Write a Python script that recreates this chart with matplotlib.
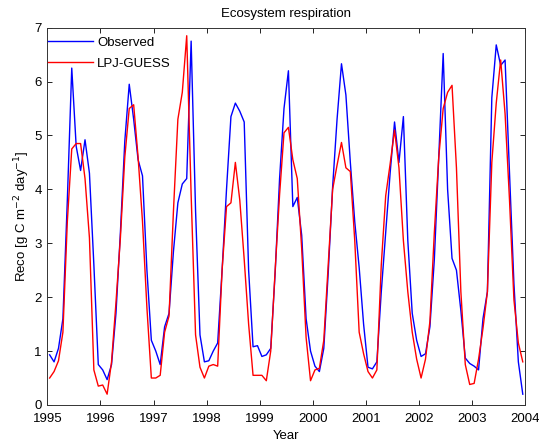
import numpy as np
import matplotlib
matplotlib.use("Agg")
import matplotlib.pyplot as plt

plt.rcParams['font.family'] = ['Liberation Sans', 'DejaVu Sans']

start_year = 1995
n_years = 9

observed = [
    0.93, 0.80, 1.05, 1.60, 3.80, 6.25, 4.80, 4.35, 4.92, 4.30, 2.60, 0.75,   # 1995
    0.65, 0.47, 0.75, 1.70, 3.20, 4.90, 5.95, 5.30, 4.55, 4.25, 2.50, 1.20,   # 1996
    1.00, 0.75, 1.45, 1.70, 2.85, 3.75, 4.10, 4.20, 6.75, 3.60, 1.30, 0.80,   # 1997
    0.82, 1.00, 1.15, 2.50, 4.00, 5.35, 5.60, 5.45, 5.25, 2.50, 1.08, 1.10,   # 1998
    0.90, 0.93, 1.05, 2.45, 4.20, 5.50, 6.20, 3.68, 3.85, 3.15, 1.60, 1.00,   # 1999
    0.72, 0.62, 1.05, 2.45, 4.05, 5.30, 6.33, 5.75, 4.50, 3.40, 2.55, 1.50,   # 2000
    0.70, 0.67, 0.80, 2.10, 3.20, 4.30, 5.25, 4.50, 5.35, 3.05, 1.70, 1.20,   # 2001
    0.90, 0.95, 1.45, 2.70, 4.60, 6.52, 4.00, 2.72, 2.50, 1.75, 0.87, 0.77,   # 2002
    0.72, 0.65, 1.60, 2.10, 5.70, 6.68, 6.30, 6.40, 4.30, 2.25, 0.80, 0.20,   # 2003
]

lpj_guess = [
    0.50, 0.62, 0.82, 1.35, 3.40, 4.75, 4.85, 4.85, 4.20, 3.10, 0.65, 0.35,   # 1995
    0.37, 0.20, 0.80, 1.90, 3.10, 4.60, 5.50, 5.57, 4.60, 3.40, 1.80, 0.50,   # 1996
    0.50, 0.55, 1.35, 1.65, 3.60, 5.30, 5.80, 6.85, 3.90, 1.30, 0.70, 0.50,   # 1997
    0.72, 0.75, 0.72, 2.50, 3.68, 3.75, 4.50, 3.80, 2.70, 1.50, 0.55, 0.55,   # 1998
    0.55, 0.45, 1.00, 2.50, 3.90, 5.05, 5.15, 4.55, 4.20, 2.90, 1.25, 0.45,   # 1999
    0.65, 0.68, 1.20, 2.60, 4.00, 4.45, 4.87, 4.40, 4.33, 3.05, 1.35, 0.95,   # 2000
    0.62, 0.50, 0.65, 2.60, 3.88, 4.47, 5.10, 4.40, 3.05, 2.10, 1.35, 0.85,   # 2001
    0.50, 0.85, 1.55, 3.20, 4.60, 5.50, 5.80, 5.93, 4.40, 2.10, 0.75, 0.38,   # 2002
    0.40, 0.85, 1.42, 2.10, 4.50, 5.60, 6.40, 5.40, 3.80, 1.95, 1.15, 0.80,   # 2003
]

year_ticks = list(range(1995, 2005))
reco_ticks = list(range(0, 8))

months = np.arange(len(observed))
time = start_year + (months + 0.5) / 12.0

fig = plt.figure(figsize=(5.39, 4.46), dpi=100)
ax = fig.add_axes([0.088, 0.092, 0.886, 0.846])

ax.plot(time, observed, color=(0, 0, 1), lw=1.0, label='Observed')
ax.plot(time, lpj_guess, color=(1, 0, 0), lw=1.0, label='LPJ-GUESS')

ax.set_xlim(start_year, start_year + n_years)
ax.set_ylim(0, 7)
ax.set_xticks(year_ticks)
ax.set_yticks(reco_ticks)
ax.tick_params(direction='in', top=True, right=True, length=3.6, width=0.6,
               labelsize=9.5)
ax.tick_params(axis='x', pad=6)
ax.tick_params(axis='y', pad=4)
for s in ax.spines.values():
    s.set_linewidth(0.7)
    s.set_color('#333333')

ax.set_title('Ecosystem respiration', fontsize=9.5, pad=8)
ax.set_xlabel('Year', fontsize=9.5, labelpad=3.5)
ax.set_ylabel('Reco [g C m$^{-2}$ day$^{-1}$]', fontsize=9.5, labelpad=2)

leg = ax.legend(loc='upper left', bbox_to_anchor=(-0.004, 0.984), frameon=False,
                fontsize=9.5, handlelength=3.4, handletextpad=0.3,
                borderaxespad=0.0, borderpad=0.2, labelspacing=0.68)

fig.savefig('out.png', dpi=100)
